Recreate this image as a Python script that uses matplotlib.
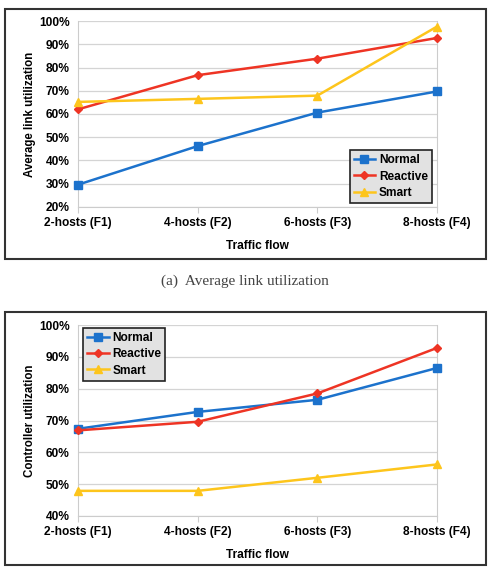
import matplotlib
matplotlib.use('Agg')
import matplotlib.pyplot as plt
from matplotlib.patches import Rectangle
from matplotlib.ticker import PercentFormatter

categories = ['2-hosts (F1)', '4-hosts (F2)', '6-hosts (F3)', '8-hosts (F4)']

# (a) average link utilization, %
link_normal = [29.6, 46.2, 60.6, 69.7]
link_reactive = [62.0, 76.7, 83.8, 92.7]
link_smart = [65.2, 66.5, 67.9, 97.6]

# (b) controller utilization, %
ctrl_normal = [67.4, 72.7, 76.5, 86.5]
ctrl_reactive = [66.9, 69.6, 78.5, 92.8]
ctrl_smart = [47.9, 47.9, 52.0, 56.2]

BLUE = '#1c72cc'
RED = '#ee3424'
YELLOW = '#fdc51c'

plt.rcParams['font.family'] = ['Liberation Sans', 'DejaVu Sans']
plt.rcParams['font.weight'] = 'bold'

W, H = 491, 569
fig = plt.figure(figsize=(W / 100, H / 100), dpi=100)


def px_axes(x0, y0, x1, y1):
    return fig.add_axes([x0 / W, 1 - y1 / H, (x1 - x0) / W, (y1 - y0) / H])


def draw(ax, normal, reactive, smart, ylim, ylabel, legend_loc):
    x = range(len(categories))
    ax.plot(x, normal, color=BLUE, lw=1.8, marker='s', ms=6, label='Normal', clip_on=False, zorder=3)
    ax.plot(x, reactive, color=RED, lw=1.8, marker='D', ms=4, label='Reactive', clip_on=False, zorder=3)
    ax.plot(x, smart, color=YELLOW, lw=1.8, marker='^', ms=6, label='Smart', clip_on=False, zorder=3)
    ax.set_xlim(0, 3)
    ax.set_ylim(*ylim)
    ax.set_yticks(range(ylim[0], ylim[1] + 1, 10))
    ax.yaxis.set_major_formatter(PercentFormatter(decimals=0))
    ax.set_xticks(list(x))
    ax.set_xticklabels(categories)
    ax.grid(axis='y', color='#d4d4d4', lw=0.9)
    ax.set_axisbelow(True)
    for s in ['left', 'right']:
        ax.spines[s].set_color('#cccccc')
    ax.spines['top'].set_visible(False)
    ax.spines['bottom'].set_color('#cccccc')
    ax.tick_params(axis='y', length=0, labelsize=8.6, pad=6)
    ax.tick_params(axis='x', length=4, color='#cccccc', labelsize=8.6, pad=3)
    ax.set_xlabel('Traffic flow', fontsize=8.6, fontweight='bold', labelpad=8)
    ax.set_ylabel(ylabel, fontsize=8.3, fontweight='bold', labelpad=2)
    leg = ax.legend(loc=legend_loc, frameon=True, fancybox=False,
                    handlelength=1.8, handletextpad=0.3, labelspacing=0.35,
                    borderpad=0.35, borderaxespad=0,
                    prop={'weight': 'bold', 'size': 8.6})
    leg.get_frame().set_facecolor('#e2e2e2')
    leg.get_frame().set_edgecolor('#222222')
    leg.get_frame().set_linewidth(1.2)
    leg.get_frame().set_alpha(1)
    return leg


ax1 = px_axes(78, 21, 437, 207)
draw(ax1, link_normal, link_reactive, link_smart, (20, 100), 'Average link utilization', 'lower right')
ax1.get_legend().set_bbox_to_anchor((432 / W, 1 - 203 / H), transform=fig.transFigure)

ax2 = px_axes(78, 325, 437, 516)
draw(ax2, ctrl_normal, ctrl_reactive, ctrl_smart, (40, 100), 'Controller utilization', 'upper left')
ax2.get_legend().set_bbox_to_anchor((83 / W, 1 - 328 / H), transform=fig.transFigure)

# panel frames
for y0, y1 in [(9, 259), (312, 565)]:
    fig.patches.append(Rectangle((5 / W, 1 - y1 / H), 481 / W, (y1 - y0) / H,
                                 transform=fig.transFigure, fill=False,
                                 edgecolor='#333333', lw=1.5))

fig.text(245 / W, 1 - 281 / H, '(a)  Average link utilization', ha='center', va='center',
         fontsize=11, fontweight='normal', color='#444444',
         family=['Liberation Serif', 'DejaVu Serif'])

fig.savefig('out.png', dpi=100)
